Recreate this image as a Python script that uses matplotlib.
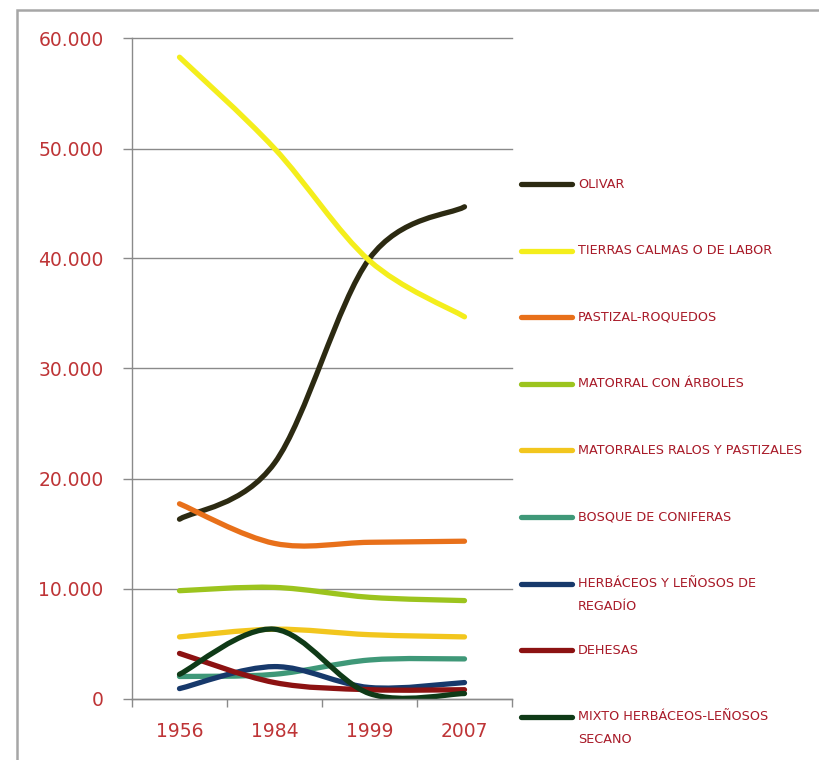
import matplotlib
matplotlib.use("Agg")
import matplotlib.pyplot as plt
from matplotlib.path import Path
from matplotlib.patches import PathPatch, Rectangle
from matplotlib.lines import Line2D
from matplotlib.ticker import FixedLocator, FuncFormatter, NullFormatter

# ---------------- data ----------------
years = ["1956", "1984", "1999", "2007"]

olivar = [16300, 21400, 40000, 44700]
tierras_calmas = [58300, 50000, 39800, 34700]
pastizal = [17700, 14100, 14200, 14300]
matorral_arboles = [9800, 10100, 9200, 8900]
matorrales_ralos = [5600, 6300, 5800, 5600]
bosque_coniferas = [2000, 2200, 3500, 3600]
herbaceos_regadio = [900, 2900, 1000, 1450]
dehesas = [4100, 1450, 800, 800]
mixto_secano = [2200, 6300, 450, 450]

series_labels = [
    "OLIVAR",
    "TIERRAS CALMAS O DE LABOR",
    "PASTIZAL-ROQUEDOS",
    "MATORRAL CON ÁRBOLES",
    "MATORRALES RALOS Y PASTIZALES",
    "BOSQUE DE CONIFERAS",
    "HERBÁCEOS Y LEÑOSOS DE\nREGADÍO",
    "DEHESAS",
    "MIXTO HERBÁCEOS-LEÑOSOS\nSECANO",
]
series_values = [olivar, tierras_calmas, pastizal, matorral_arboles,
                 matorrales_ralos, bosque_coniferas, herbaceos_regadio,
                 dehesas, mixto_secano]
series_colors = ["#2C2A12", "#F4EE1C", "#E8701A", "#9CC41E", "#F2C61E",
                 "#3F9878", "#17396B", "#8C1212", "#0F3A17"]

y_ticks = [0, 10000, 20000, 30000, 40000, 50000, 60000]

# ---------------- figure ----------------
W, H = 820, 760
fig = plt.figure(figsize=(W / 100, H / 100), dpi=100)
fig.patch.set_facecolor("white")


def fx(px):
    return px / W


def fy(py):
    return 1 - py / H


# outer frame (left & top visible)
fig.add_artist(Rectangle((fx(17), fy(900)), 1.2, fy(10) - fy(900),
                         transform=fig.transFigure, fill=False,
                         edgecolor="#A6A6A6", linewidth=1.8))

ax = fig.add_axes([fx(132), fy(698.5), fx(512) - fx(132), fy(38.5) - fy(698.5)])
ax.set_xlim(-0.5, len(years) - 0.5)
ax.set_ylim(0, 60000)

grid_col = "#8A8A8A"
for s in ["top", "right"]:
    ax.spines[s].set_visible(False)
for s in ["left", "bottom"]:
    ax.spines[s].set_color(grid_col)
    ax.spines[s].set_linewidth(1.0)

ax.yaxis.set_major_locator(FixedLocator(y_ticks))
ax.yaxis.set_major_formatter(FuncFormatter(
    lambda v, p: "0" if v == 0 else f"{int(v):,}".replace(",", ".")))
ax.grid(axis="y", color=grid_col, linewidth=1.0)
ax.set_axisbelow(True)
for gl in ax.get_ygridlines():
    gl.set_clip_on(False)

tick_col = "#BE3436"
ax.tick_params(axis="y", which="major", length=6.5, width=1.0, color=grid_col,
               pad=14, labelsize=13.5, labelcolor=tick_col)

ax.xaxis.set_major_locator(FixedLocator([i - 0.5 for i in range(len(years) + 1)]))
ax.xaxis.set_major_formatter(NullFormatter())
ax.xaxis.set_minor_locator(FixedLocator(list(range(len(years)))))
ax.xaxis.set_minor_formatter(FuncFormatter(lambda v, p: years[int(round(v))]))
ax.tick_params(axis="x", which="major", length=6, width=1.0, color=grid_col)
ax.tick_params(axis="x", which="minor", length=0, pad=17, labelsize=13.5,
               labelcolor=tick_col)


def smooth_path(xs, ys):
    n = len(xs)
    verts = [(xs[0], ys[0])]
    codes = [Path.MOVETO]
    for i in range(n - 1):
        a = i - 1 if i > 0 else i
        d = i + 2 if i + 2 < n else i + 1
        c1 = (xs[i] + (xs[i + 1] - xs[a]) / 6.0, ys[i] + (ys[i + 1] - ys[a]) / 6.0)
        c2 = (xs[i + 1] - (xs[d] - xs[i]) / 6.0, ys[i + 1] - (ys[d] - ys[i]) / 6.0)
        verts += [c1, c2, (xs[i + 1], ys[i + 1])]
        codes += [Path.CURVE4] * 3
    return Path(verts, codes)


xs = list(range(len(years)))
lw = 3.8
for vals, col in zip(series_values, series_colors):
    patch = PathPatch(smooth_path(xs, vals), fill=False, edgecolor=col,
                      linewidth=lw, capstyle="round", joinstyle="round")
    ax.add_patch(patch)

# ---------------- legend ----------------
leg_col = "#A81A28"
y0, dy = 184, 66.6
for i, (lab, col) in enumerate(zip(series_labels, series_colors)):
    yy = y0 + i * dy
    fig.add_artist(Line2D([fx(521), fx(572)], [fy(yy), fy(yy)],
                          transform=fig.transFigure, color=col,
                          linewidth=lw, solid_capstyle="round"))
    for j, line in enumerate(lab.split("\n")):
        fig.text(fx(578), fy(yy + j * 22.5), line, fontsize=9.2, color=leg_col,
                 ha="left", va="center")

fig.savefig("out.png", dpi=100, facecolor="white")
